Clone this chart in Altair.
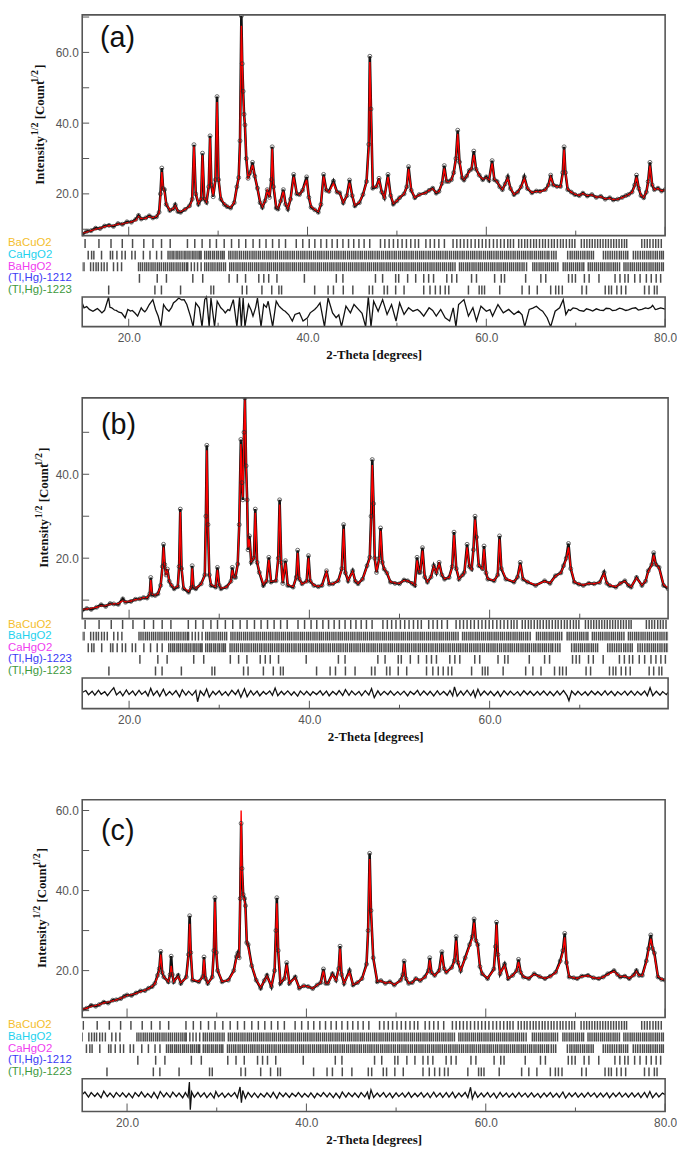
import altair as alt
import pandas as pd

# ------------------------------------------------------------------ data
PANEL_LETTERS = ["(a)", "(b)", "(c)"]
X_TITLE = "2-Theta [degrees]"
ROW_COLORS = ["#F4BE2C", "#1ED2EE", "#F03CF0", "#3C3CF5", "#3E9A3E"]
ROW_LABELS_A = ["BaCuO2", "CaHgO2", "BaHgO2", "(Tl,Hg)-1212", "(Tl,Hg)-1223"]
ROW_LABELS_B = ["BaCuO2", "BaHgO2", "CaHgO2", "(Tl,Hg)-1223", "(Tl,Hg)-1223"]
ROW_LABELS_C = ["BaCuO2", "BaHgO2", "CaHgO2", "(Tl,Hg)-1212", "(Tl,Hg)-1223"]

BRAGG_BACUO2 = [15.12, 16.67, 18.02, 19.28, 20.43, 21.69, 22.71, 23.67, 24.64, 26.57, 27.39, 28.21, 29.08,
                29.81, 30.68, 31.5, 32.32, 33.09, 33.91, 34.64, 35.36, 36.09, 36.81, 37.54, 38.74, 39.47,
                40.19, 40.82, 41.5, 42.13, 42.75, 43.33, 43.96, 44.59, 45.17, 45.75, 46.33, 46.96, 48.16,
                48.65, 49.13, 49.61, 50.1, 50.58, 51.06, 51.55, 52.03, 52.42, 53.24, 53.72, 54.2, 54.69,
                55.31, 56.28, 56.7, 57.1, 57.5, 57.9, 58.3, 58.75, 59.15, 59.55, 59.95, 60.35, 60.8, 61.2,
                61.6, 62.0, 62.4, 62.7, 63.04, 63.62, 63.95, 64.3, 64.6, 64.95, 65.3, 65.6, 65.95, 66.3,
                66.6, 66.95, 67.3, 67.6, 67.95, 68.3, 68.6, 68.95, 69.3, 69.6, 69.9, 70.63, 70.95, 71.25,
                71.55, 71.85, 72.15, 72.45, 72.75, 73.05, 73.35, 73.65, 73.95, 74.25, 74.55, 74.85, 75.15,
                75.45, 75.7, 77.39, 77.7, 78.0, 78.3, 78.65, 78.95, 79.25, 79.57]
BRAGG_CAHGO2 = [15.47, 15.85, 16.1, 16.96, 17.95, 18.2, 18.68, 19.24, 19.61, 20.35, 20.72, 21.64, 22.38,
                23.12, 23.67, 24.4, 24.62, 24.85, 25.05, 25.3, 25.5, 25.72, 25.95, 26.2, 26.4, 26.63,
                26.85, 27.1, 27.3, 27.52, 27.75, 27.95, 28.1, 28.5, 28.72, 28.95, 29.15, 29.4, 29.6, 29.85,
                30.05, 30.3, 30.5, 30.68, 31.2, 31.42, 31.66, 31.9, 32.12, 32.38, 32.6, 32.85, 33.08, 33.3,
                33.55, 33.8, 34.02, 34.25, 34.5, 34.72, 34.98, 35.2, 35.45, 35.68, 35.9, 36.15, 36.4,
                36.62, 36.88, 37.1, 37.35, 37.58, 37.8, 38.05, 38.3, 38.52, 38.78, 39.0, 39.25, 39.48,
                39.7, 39.95, 40.2, 40.42, 40.68, 40.9, 41.15, 41.38, 41.6, 41.85, 42.1, 42.32, 42.58, 42.8,
                43.05, 43.28, 43.5, 43.75, 44.0, 44.22, 44.48, 44.7, 44.95, 45.18, 45.4, 45.65, 45.9,
                46.12, 46.38, 46.6, 46.85, 47.08, 47.3, 47.55, 47.8, 48.02, 48.28, 48.5, 48.75, 48.98,
                49.2, 49.45, 49.7, 49.92, 50.18, 50.4, 50.65, 50.88, 51.1, 51.35, 51.6, 51.82, 52.08, 52.3,
                52.55, 52.78, 53.0, 53.25, 53.5, 53.72, 53.98, 54.2, 54.45, 54.68, 54.9, 55.15, 55.4,
                55.62, 55.88, 56.1, 56.35, 56.58, 56.8, 57.05, 57.3, 57.52, 57.78, 58.0, 58.25, 58.48,
                58.7, 58.95, 59.2, 59.42, 59.68, 59.9, 60.15, 60.38, 60.6, 60.85, 61.1, 61.32, 61.58, 61.8,
                62.05, 62.28, 62.5, 62.75, 63.0, 63.22, 63.48, 63.7, 63.95, 64.18, 64.4, 64.65, 64.9,
                65.12, 65.38, 65.6, 65.85, 66.08, 66.3, 66.55, 66.8, 67.0, 67.3, 67.55, 67.8, 69.1, 69.38,
                69.6, 69.85, 70.08, 70.3, 70.55, 70.8, 71.02, 71.28, 71.5, 71.75, 71.98, 73.1, 73.35,
                73.6, 73.85, 74.1, 74.35, 74.6, 74.88, 75.1, 75.35, 75.6, 75.82, 76.45, 76.7, 76.95, 77.22,
                77.48, 77.7, 77.95, 78.18, 78.4, 78.65, 78.9, 79.12, 79.38, 79.6, 79.8]
BRAGG_BAHGO2 = [14.75, 15.0, 15.74, 16.05, 16.35, 16.6, 16.95, 17.25, 17.58, 18.3, 18.75, 19.2, 21.1,
                21.32, 21.55, 21.8, 22.02, 22.25, 22.5, 22.72, 22.95, 23.2, 23.42, 23.65, 23.9, 24.12,
                24.35, 24.6, 24.82, 25.05, 25.3, 25.52, 25.75, 26.0, 26.22, 26.45, 26.6, 27.0, 27.35, 27.7,
                28.1, 28.5, 28.72, 28.95, 29.2, 29.42, 29.65, 29.9, 30.12, 30.35, 30.6, 30.82, 31.3, 31.52,
                31.75, 32.0, 32.22, 32.45, 32.7, 32.92, 33.15, 33.4, 33.62, 33.85, 34.1, 34.32, 34.55, 34.8,
                35.02, 35.25, 35.5, 35.72, 35.95, 36.2, 36.42, 36.65, 36.9, 37.12, 37.35, 37.6, 37.82,
                38.05, 38.3, 38.52, 38.75, 39.0, 39.22, 39.45, 39.7, 39.92, 40.15, 40.4, 40.62, 40.85,
                41.1, 41.32, 41.55, 41.8, 42.02, 42.25, 42.5, 42.72, 42.95, 43.2, 43.42, 43.65, 43.9,
                44.12, 44.35, 44.6, 44.82, 45.05, 45.3, 45.52, 45.75, 46.0, 46.22, 46.45, 46.7, 46.92,
                47.15, 47.4, 47.62, 47.85, 48.1, 48.32, 48.55, 48.8, 49.02, 49.25, 49.5, 49.72, 49.95,
                50.2, 50.42, 50.65, 50.9, 51.12, 51.35, 51.6, 51.82, 52.05, 52.3, 52.52, 52.75, 53.0,
                53.22, 53.45, 53.7, 53.92, 54.15, 54.4, 54.62, 54.85, 55.1, 55.32, 55.55, 55.8, 56.02,
                56.25, 56.5, 57.0, 57.22, 57.45, 57.7, 57.92, 58.15, 58.4, 58.62, 58.85, 59.1, 59.32,
                59.55, 59.8, 60.02, 60.25, 60.5, 60.72, 60.95, 61.2, 61.42, 61.65, 61.9, 62.12, 62.35,
                62.6, 62.82, 63.05, 63.3, 63.52, 63.75, 64.0, 64.22, 64.5, 65.2, 65.42, 65.65, 65.9, 66.12,
                66.35, 66.6, 66.82, 67.05, 67.3, 67.52, 67.75, 68.0, 68.6, 68.82, 69.05, 69.3, 69.52,
                69.75, 70.0, 70.22, 70.45, 70.7, 70.9, 71.4, 71.62, 71.85, 72.1, 72.32, 72.55, 72.8, 73.02,
                73.25, 73.5, 73.72, 73.95, 74.2, 74.42, 74.65, 74.9, 75.4, 75.62, 75.85, 76.1, 76.32,
                76.55, 76.8, 77.02, 77.25, 77.5, 77.72, 77.95, 78.2, 78.42, 78.65, 78.9, 79.12, 79.35,
                79.6, 79.8]
BRAGG_TL1212 = [21.2, 23.19, 24.22, 27.17, 28.28, 31.23, 32.15, 33.07, 34.55, 35.11, 35.66, 36.58, 39.65,
                43.22, 43.96, 47.6, 48.4, 49.86, 50.2, 51.2, 52.1, 53.0, 53.55, 54.1, 55.58, 56.14, 56.69,
                58.35, 58.9, 60.93, 61.67, 62.04, 64.4, 66.1, 66.65, 69.2, 69.6, 69.97, 70.97, 71.5, 72.6,
                74.4, 74.95, 75.5, 75.87, 76.6, 77.2, 77.9, 78.45, 79.0, 79.5]
BRAGG_TL1223 = [17.76, 22.93, 23.66, 25.8, 29.2, 29.5, 32.7, 33.2, 34.9, 36.0, 36.8, 37.1, 40.8, 42.3,
                42.9, 44.0, 45.07, 46.9, 47.28, 48.57, 48.94, 49.86, 50.8, 53.0, 53.7, 54.3, 54.85, 55.4,
                55.8, 58.0, 59.2, 59.5, 59.8, 61.5, 64.0, 64.8, 65.7, 67.2, 67.76, 68.1, 68.5, 70.7, 71.2,
                73.3, 73.7, 74.0, 74.6, 75.1, 75.6, 77.7, 78.2, 78.8, 79.1]

# (2-theta, observed, calculated)
PROFILE_A = [
    (14.8, 8.6, 8.9), (15.3, 9.4, 9.2), (15.8, 9.6, 9.6), (16.3, 10.3, 10.0), (16.8, 10.2, 10.3),
    (17.3, 10.9, 10.7), (17.8, 11.1, 11.0), (18.3, 10.8, 11.1), (18.8, 11.6, 11.4), (19.3, 11.4, 11.5),
    (19.8, 12.1, 11.8), (20.3, 12.0, 12.1), (20.8, 12.8, 12.5), (21.1, 13.9, 13.6), (21.4, 12.9, 13.0),
    (21.9, 13.2, 13.1), (22.3, 13.8, 13.6), (22.7, 13.2, 13.3), (23.1, 13.5, 13.6), (23.4, 14.8, 14.5),
    (23.55, 20.0, 19.5), (23.7, 27.3, 26.2), (23.85, 21.5, 21.8), (24.0, 21.2, 20.5), (24.2, 17.0, 17.2),
    (24.6, 15.3, 15.4), (25.0, 15.8, 15.9), (25.2, 16.9, 16.6), (25.5, 15.0, 15.2), (25.8, 14.8, 15.0),
    (26.3, 15.6, 15.6), (26.8, 16.6, 16.4), (27.1, 18.5, 18.3), (27.3, 33.9, 33.5), (27.5, 20.0, 20.3),
    (27.8, 17.1, 17.3), (28.1, 18.5, 18.6), (28.25, 31.5, 31.0), (28.45, 18.5, 18.7), (28.7, 17.6, 17.8),
    (28.95, 22.0, 22.0), (29.1, 36.4, 35.8), (29.25, 22.5, 22.8), (29.45, 19.2, 19.5), (29.7, 24.0, 24.0),
    (29.88, 47.5, 46.0), (30.05, 24.0, 24.5), (30.3, 18.5, 18.8), (30.7, 17.0, 17.2), (31.0, 16.4, 16.6),
    (31.4, 16.0, 16.2), (31.8, 17.5, 17.6), (32.1, 22.0, 22.0), (32.3, 24.6, 24.4), (32.45, 35.0, 34.0),
    (32.6, 70.3, 67.5), (32.7, 56.8, 57.5), (32.8, 49.0, 48.5), (32.9, 42.5, 42.0), (33.0, 39.5, 40.0),
    (33.15, 30.0, 30.5), (33.35, 24.4, 24.6), (33.6, 26.0, 26.0), (33.85, 28.9, 28.2), (34.1, 25.0, 25.2),
    (34.4, 21.6, 21.5), (34.7, 17.5, 17.8), (34.95, 16.2, 16.4), (35.25, 18.0, 18.0), (35.5, 21.2, 21.0),
    (35.75, 19.0, 19.2), (35.95, 24.0, 24.0), (36.05, 33.3, 32.8), (36.2, 22.0, 22.5), (36.5, 16.0, 16.3),
    (36.7, 15.7, 15.9), (37.0, 18.0, 18.0), (37.3, 21.2, 20.8), (37.55, 17.0, 17.2), (37.8, 15.7, 15.9),
    (38.1, 18.5, 18.4), (38.45, 25.5, 24.8), (38.8, 20.0, 20.2), (39.1, 19.8, 19.8), (39.45, 21.0, 21.0),
    (39.9, 24.8, 24.0), (40.15, 19.0, 19.2), (40.4, 16.2, 16.5), (40.8, 15.5, 15.6), (41.2, 14.8, 15.0),
    (41.5, 17.0, 17.2), (41.8, 25.5, 25.0), (42.1, 21.0, 21.2), (42.4, 20.7, 20.5), (42.9, 23.6, 23.0),
    (43.3, 20.5, 20.6), (43.6, 20.3, 20.2), (44.0, 17.5, 17.6), (44.4, 19.5, 19.5), (44.7, 23.9, 23.2),
    (45.0, 19.5, 19.6), (45.3, 16.6, 16.8), (45.8, 17.5, 17.6), (46.2, 19.8, 19.8), (46.6, 23.5, 23.2),
    (46.85, 34.0, 33.0), (46.97, 58.9, 57.3), (47.1, 44.0, 44.5), (47.3, 21.6, 22.0), (47.7, 22.0, 22.0),
    (48.0, 24.4, 24.0), (48.3, 20.5, 20.6), (48.6, 18.9, 19.0), (49.0, 25.5, 24.8), (49.3, 19.5, 19.6),
    (49.6, 17.1, 17.3), (50.0, 18.0, 18.0), (50.3, 18.9, 18.9), (50.8, 20.0, 20.0), (51.1, 22.0, 22.0),
    (51.3, 27.7, 27.0), (51.6, 21.0, 21.2), (52.0, 18.9, 19.0), (52.5, 19.8, 19.7), (53.2, 20.3, 20.3),
    (53.6, 21.0, 21.0), (54.0, 21.6, 21.4), (54.4, 20.2, 20.4), (54.7, 20.7, 20.7), (55.05, 23.0, 23.0),
    (55.3, 28.0, 27.2), (55.55, 23.5, 23.6), (55.8, 23.5, 23.4), (56.1, 24.0, 24.0), (56.35, 26.0, 25.8),
    (56.6, 30.0, 30.0), (56.8, 38.0, 37.0), (57.0, 29.0, 29.5), (57.3, 24.5, 24.6), (57.5, 23.9, 24.0),
    (57.8, 25.0, 25.0), (58.1, 26.6, 26.3), (58.35, 27.0, 27.2), (58.6, 32.1, 31.0), (58.85, 27.0, 27.2),
    (59.2, 25.3, 25.2), (59.6, 24.0, 24.2), (60.0, 24.8, 24.5), (60.3, 23.8, 24.0), (60.65, 29.4, 28.6),
    (60.9, 24.0, 24.2), (61.2, 23.5, 23.4), (61.5, 22.0, 22.1), (61.8, 21.2, 21.3), (62.1, 22.8, 22.8),
    (62.4, 24.8, 24.4), (62.7, 21.5, 21.6), (63.1, 19.8, 19.9), (63.5, 20.5, 20.5), (63.9, 22.0, 22.0),
    (64.25, 24.8, 24.3), (64.6, 21.5, 21.6), (65.1, 20.3, 20.4), (65.6, 20.8, 20.7), (66.0, 20.7, 20.6),
    (66.6, 21.2, 21.1), (66.95, 22.5, 22.4), (67.2, 25.3, 24.8), (67.5, 22.5, 22.6), (67.9, 22.1, 22.0),
    (68.3, 22.1, 22.0), (68.55, 26.0, 25.5), (68.7, 33.3, 32.5), (68.85, 26.0, 26.4), (69.1, 21.2, 21.4),
    (69.5, 20.5, 20.5), (69.9, 19.8, 19.9), (70.4, 19.5, 19.6), (70.8, 20.2, 20.1), (71.3, 19.4, 19.5),
    (71.8, 19.8, 19.7), (72.3, 19.0, 19.1), (72.8, 19.3, 19.2), (73.3, 18.5, 18.6), (73.8, 18.9, 18.8),
    (74.2, 18.3, 18.4), (74.7, 18.5, 18.5), (75.2, 19.0, 18.9), (75.6, 19.5, 19.4), (75.9, 19.8, 19.8),
    (76.3, 20.5, 20.4), (76.6, 22.5, 22.3), (76.8, 25.3, 24.8), (77.05, 21.5, 21.7), (77.3, 19.5, 19.6),
    (77.6, 18.9, 19.0), (77.9, 20.5, 20.5), (78.1, 23.5, 23.2), (78.3, 28.9, 28.0), (78.55, 22.5, 22.8),
    (78.8, 21.2, 21.2), (79.2, 21.6, 21.5), (79.6, 20.8, 20.9), (80.0, 21.2, 21.1)]

PROFILE_B = [
    (14.8, 7.6, 7.8), (15.3, 8.0, 7.9), (15.8, 7.8, 8.1), (16.4, 8.3, 8.3), (16.9, 8.9, 8.6),
    (17.4, 8.5, 8.7), (17.9, 9.2, 9.0), (18.3, 9.1, 9.1), (18.8, 9.0, 9.2), (19.3, 10.3, 9.9),
    (19.6, 9.5, 9.6), (20.2, 9.7, 9.8), (20.7, 10.2, 10.1), (21.2, 10.3, 10.3), (21.6, 10.6, 10.6),
    (22.0, 10.5, 10.6), (22.3, 11.5, 11.4), (22.4, 15.4, 14.8), (22.55, 11.2, 11.4), (22.9, 11.1, 11.2),
    (23.2, 11.5, 11.6), (23.5, 13.5, 13.3), (23.7, 18.0, 17.6), (23.82, 23.3, 22.6), (23.95, 18.5, 18.8),
    (24.1, 16.0, 16.2), (24.25, 17.4, 17.0), (24.45, 14.5, 14.6), (24.7, 13.5, 13.6), (25.0, 12.7, 12.9),
    (25.4, 13.2, 13.3), (25.55, 18.0, 17.5), (25.68, 31.7, 31.0), (25.82, 17.5, 18.0), (26.05, 12.7, 13.0),
    (26.6, 11.9, 12.1), (26.9, 13.0, 13.0), (27.0, 18.2, 17.6), (27.15, 13.0, 13.2), (27.4, 12.7, 12.8),
    (28.0, 13.9, 13.8), (28.4, 16.0, 16.0), (28.52, 30.0, 29.0), (28.62, 46.9, 45.7), (28.75, 28.0, 28.5),
    (28.9, 16.0, 16.3), (29.1, 13.5, 13.7), (29.6, 13.1, 13.2), (29.8, 17.8, 17.2), (30.0, 13.5, 13.6),
    (30.2, 12.7, 12.9), (30.8, 13.1, 13.1), (31.3, 14.5, 14.4), (31.45, 17.8, 17.2), (31.6, 15.5, 15.5),
    (31.8, 15.4, 15.5), (32.05, 18.6, 18.6), (32.22, 28.0, 28.0), (32.4, 48.3, 47.2), (32.52, 38.0, 38.5),
    (32.62, 33.9, 34.5), (32.75, 50.0, 50.5), (32.85, 58.2, 57.8), (32.98, 42.0, 43.0), (33.1, 33.9, 33.0),
    (33.2, 22.0, 22.5), (33.35, 25.3, 24.5), (33.55, 19.0, 19.2), (33.85, 20.0, 20.0), (34.0, 31.7, 30.8),
    (34.2, 19.0, 19.3), (34.45, 16.6, 16.7), (34.9, 13.5, 13.8), (35.25, 14.5, 14.6), (35.5, 20.2, 19.6),
    (35.75, 14.3, 14.5), (36.3, 14.6, 14.6), (36.55, 20.0, 20.0), (36.7, 33.9, 32.8), (36.88, 19.0, 19.5),
    (37.05, 14.0, 14.2), (37.35, 19.4, 18.9), (37.6, 13.5, 13.7), (38.2, 13.1, 13.2), (38.55, 15.5, 15.4),
    (38.7, 21.9, 21.3), (38.88, 15.0, 15.2), (39.2, 13.9, 13.9), (39.7, 14.5, 14.4), (39.9, 20.6, 20.0),
    (40.1, 14.5, 14.6), (40.5, 13.5, 13.6), (41.0, 13.2, 13.3), (41.4, 13.5, 13.5), (41.9, 17.0, 16.7),
    (42.2, 13.8, 13.9), (42.6, 13.9, 13.9), (43.2, 14.6, 14.6), (43.6, 17.5, 17.3), (43.8, 28.0, 27.0),
    (44.0, 16.5, 16.8), (44.3, 14.6, 14.7), (44.8, 17.0, 16.8), (45.1, 14.5, 14.6), (45.4, 13.9, 14.0),
    (45.9, 15.0, 15.0), (46.4, 18.2, 18.0), (46.7, 20.2, 20.0), (46.85, 30.0, 29.5), (46.98, 43.5, 42.2),
    (47.12, 33.0, 33.5), (47.25, 20.0, 20.3), (47.45, 16.6, 16.8), (47.75, 20.0, 19.8), (47.9, 27.2, 26.5),
    (48.1, 19.0, 19.2), (48.3, 17.4, 17.5), (48.6, 16.5, 16.6), (49.0, 14.3, 14.4), (49.5, 14.0, 14.1),
    (50.0, 13.9, 14.0), (50.5, 14.8, 14.7), (50.9, 14.6, 14.6), (51.4, 14.0, 14.1), (51.7, 13.5, 13.6),
    (51.95, 20.2, 19.5), (52.15, 16.6, 16.8), (52.3, 16.6, 16.7), (52.55, 22.5, 21.8), (52.8, 15.5, 15.7),
    (53.1, 14.3, 14.4), (53.5, 15.5, 15.5), (53.8, 18.2, 18.0), (54.1, 16.5, 16.6), (54.4, 19.0, 18.7),
    (54.7, 16.0, 16.1), (55.0, 15.0, 15.1), (55.5, 15.4, 15.4), (55.85, 18.0, 17.8), (56.05, 26.2, 25.5),
    (56.3, 17.5, 17.7), (56.6, 15.0, 15.1), (57.0, 16.0, 16.0), (57.2, 16.6, 16.5), (57.5, 23.3, 22.6),
    (57.75, 18.0, 18.2), (58.0, 17.4, 17.4), (58.2, 22.0, 21.8), (58.38, 30.0, 29.2), (58.55, 25.0, 25.2),
    (58.8, 18.2, 18.3), (59.2, 17.5, 17.5), (59.38, 22.9, 22.2), (59.6, 16.5, 16.7), (59.8, 15.0, 15.1),
    (60.5, 14.6, 14.7), (60.9, 16.0, 16.0), (61.1, 25.3, 24.5), (61.3, 17.5, 17.8), (61.8, 15.0, 15.1),
    (62.7, 14.3, 14.4), (63.1, 15.5, 15.5), (63.4, 19.0, 18.6), (63.7, 15.0, 15.2), (64.2, 14.3, 14.4),
    (65.1, 13.5, 13.6), (66.1, 14.6, 14.5), (66.7, 14.0, 14.1), (67.3, 15.8, 15.7), (67.9, 16.5, 16.5),
    (68.2, 18.2, 18.0), (68.5, 20.0, 19.8), (68.75, 23.5, 22.6), (69.0, 17.5, 17.7), (69.4, 14.3, 14.4),
    (69.9, 13.8, 13.9), (70.4, 13.5, 13.6), (71.0, 14.0, 14.0), (71.6, 13.9, 13.9), (72.2, 14.2, 14.2),
    (72.7, 16.6, 16.3), (73.0, 14.0, 14.1), (73.3, 13.5, 13.6), (74.0, 13.1, 13.2), (74.5, 14.0, 14.0),
    (75.0, 14.6, 14.5), (75.4, 13.5, 13.6), (75.7, 13.1, 13.2), (76.3, 15.4, 15.3), (76.9, 13.5, 13.6),
    (77.3, 14.5, 14.5), (77.6, 17.0, 16.8), (78.0, 18.5, 18.4), (78.2, 21.3, 20.8), (78.45, 18.5, 18.6),
    (78.8, 17.8, 17.6), (79.3, 13.5, 13.7), (79.8, 12.7, 12.9)]

PROFILE_C = [
    (15.0, 10.3, 10.4), (15.5, 10.6, 10.6), (16.0, 11.3, 11.0), (16.5, 11.1, 11.3), (16.9, 11.5, 11.5),
    (17.4, 12.1, 11.9), (17.9, 11.9, 12.2), (18.4, 12.6, 12.4), (18.8, 12.7, 12.7), (19.3, 13.0, 13.1),
    (19.7, 13.6, 13.4), (20.0, 13.9, 13.8), (20.5, 13.8, 14.0), (21.0, 14.4, 14.3), (21.5, 14.9, 14.7),
    (22.0, 15.0, 15.1), (22.4, 15.6, 15.5), (22.8, 16.0, 16.1), (23.1, 16.8, 16.7), (23.4, 18.8, 18.5),
    (23.6, 20.5, 20.3), (23.75, 24.8, 24.0), (23.92, 19.5, 19.8), (24.1, 18.4, 18.4), (24.6, 17.2, 17.3),
    (24.8, 19.0, 18.8), (24.92, 23.6, 21.2), (25.05, 19.0, 19.2), (25.2, 17.2, 17.3), (25.7, 18.8, 18.5),
    (26.0, 16.8, 17.0), (26.6, 18.4, 18.2), (26.85, 24.0, 23.5), (26.98, 33.7, 31.7), (27.1, 24.5, 25.0),
    (27.3, 17.6, 17.8), (28.0, 17.2, 17.3), (28.45, 18.5, 18.4), (28.58, 23.4, 22.8), (28.75, 18.0, 18.2),
    (29.0, 16.8, 16.9), (29.5, 18.4, 18.3), (29.68, 25.0, 25.0), (29.8, 38.2, 37.2), (29.95, 24.5, 25.0),
    (30.1, 20.0, 20.2), (30.6, 17.2, 17.3), (31.3, 17.6, 17.6), (31.9, 20.0, 19.8), (32.2, 23.5, 23.2),
    (32.35, 24.4, 24.0), (32.5, 23.2, 23.4), (32.62, 38.0, 38.5), (32.72, 56.8, 60.0), (32.82, 45.5, 46.0),
    (32.95, 39.0, 38.5), (33.1, 38.0, 37.5), (33.2, 36.2, 35.5), (33.35, 27.0, 27.5), (33.5, 26.5, 26.0),
    (33.9, 21.2, 21.3), (34.4, 17.6, 17.7), (34.9, 15.6, 15.8), (35.3, 17.5, 17.4), (35.6, 18.8, 18.6),
    (36.1, 16.0, 16.2), (36.45, 20.0, 19.8), (36.6, 30.0, 29.5), (36.7, 38.2, 36.8), (36.85, 25.0, 25.6),
    (37.1, 16.8, 17.0), (37.55, 18.0, 17.9), (37.8, 22.0, 21.5), (38.1, 16.8, 16.9), (38.75, 18.4, 18.2),
    (39.2, 15.6, 15.7), (39.7, 16.2, 16.2), (40.2, 16.0, 16.0), (40.7, 15.5, 15.6), (41.2, 16.4, 16.4),
    (41.6, 17.0, 17.0), (41.9, 20.4, 20.0), (42.15, 16.8, 16.9), (42.4, 16.8, 16.8), (42.9, 19.2, 19.0),
    (43.3, 17.6, 17.6), (43.6, 20.5, 20.3), (43.75, 26.1, 25.5), (43.92, 19.0, 19.3), (44.2, 16.8, 16.9),
    (44.8, 20.0, 19.6), (45.2, 16.4, 16.5), (45.7, 17.0, 17.0), (46.2, 18.0, 18.0), (46.7, 21.6, 21.3),
    (46.88, 30.0, 30.0), (47.05, 49.3, 47.9), (47.2, 35.0, 35.5), (47.45, 23.2, 23.2), (47.9, 17.2, 17.4),
    (48.3, 17.5, 17.4), (48.8, 16.8, 16.9), (49.3, 17.2, 17.1), (49.8, 16.4, 16.5), (50.5, 17.6, 17.5),
    (50.75, 19.0, 18.8), (50.9, 22.4, 21.8), (51.1, 18.0, 18.2), (51.4, 16.8, 16.9), (51.8, 17.0, 17.0),
    (52.2, 18.0, 18.0), (52.7, 17.5, 17.6), (53.2, 18.4, 18.3), (53.6, 20.0, 19.8), (53.75, 23.2, 22.6),
    (53.95, 19.5, 19.6), (54.3, 18.8, 18.8), (54.8, 20.0, 19.9), (55.1, 24.7, 24.0), (55.35, 20.5, 20.6),
    (55.6, 19.6, 19.6), (56.2, 20.8, 20.7), (56.5, 22.5, 22.3), (56.7, 28.5, 27.5), (56.9, 22.0, 22.3),
    (57.2, 20.0, 20.1), (57.7, 23.2, 23.0), (58.2, 26.5, 26.2), (58.5, 28.5, 28.0), (58.7, 32.9, 32.0),
    (58.9, 27.5, 27.6), (59.1, 26.5, 26.0), (59.35, 21.0, 21.2), (59.6, 19.2, 19.3), (60.2, 18.0, 18.1),
    (60.9, 20.4, 20.2), (61.08, 26.0, 26.0), (61.2, 32.1, 31.5), (61.35, 24.0, 24.5), (61.6, 19.2, 19.3),
    (62.1, 21.6, 21.3), (62.5, 18.0, 18.1), (63.0, 18.8, 18.8), (63.45, 20.0, 20.0), (63.65, 22.8, 22.2),
    (63.9, 19.5, 19.6), (64.2, 18.4, 18.5), (64.8, 18.0, 18.1), (65.4, 19.2, 19.1), (66.0, 18.5, 18.5),
    (66.6, 18.0, 18.1), (67.2, 18.6, 18.5), (67.8, 19.6, 19.5), (68.3, 22.4, 22.0), (68.6, 25.0, 24.6),
    (68.8, 29.3, 28.3), (69.0, 22.0, 22.4), (69.3, 18.4, 18.5), (69.8, 18.2, 18.2), (70.2, 18.0, 18.1),
    (70.7, 18.6, 18.5), (71.4, 18.8, 18.7), (72.0, 18.2, 18.2), (72.6, 18.0, 18.1), (73.1, 18.4, 18.4),
    (73.6, 19.2, 19.0), (74.3, 20.0, 19.8), (74.7, 19.0, 19.0), (75.0, 18.4, 18.5), (75.5, 18.6, 18.6),
    (76.0, 18.0, 18.1), (76.5, 18.9, 18.8), (76.8, 20.0, 19.8), (77.1, 18.8, 18.8), (77.45, 18.8, 18.8),
    (77.9, 22.4, 22.0), (78.15, 25.5, 25.0), (78.4, 28.9, 28.0), (78.6, 25.5, 25.8), (78.8, 24.4, 24.0),
    (79.2, 18.4, 18.6), (79.6, 17.8, 17.9), (80.0, 17.6, 17.7)]

# (2-theta, observed - calculated), box spans -10 .. 10
DIFF_A = [
    (14.8, 6.0), (15.0, 2.7), (15.3, 3.5), (15.6, 1.6), (16.0, 0.4), (16.3, 1.5), (16.5, 2.2), (16.8, 0.5),
    (17.0, -0.7), (17.3, 1.0), (17.5, 4.9), (17.75, 9.8), (17.9, 3.0), (18.1, 2.7), (18.4, 1.2), (18.6, 0.9),
    (18.9, -0.3), (19.2, -0.7), (19.6, -4.0), (19.9, 1.6), (20.2, 0.5), (20.4, 0.9), (20.7, -0.8), (21.0, -2.9),
    (21.4, 2.7), (21.6, 1.0), (21.8, 0.0), (22.0, 1.5), (22.3, 4.9), (22.7, 8.2), (23.0, 1.6), (23.3, -3.0),
    (23.6, -10.0), (23.9, 4.9), (24.2, 2.0), (24.5, 0.4), (24.8, 3.0), (25.0, 6.0), (25.3, 7.5), (25.6, 9.3),
    (25.9, 8.0), (26.2, 8.2), (26.5, 4.9), (26.9, -2.9), (27.2, -10.0), (27.5, 6.0), (27.9, 2.7), (28.2, -10.0),
    (28.5, 8.2), (28.7, 10.0), (29.0, -10.0), (29.2, 9.3), (29.6, -10.0), (29.9, 7.1), (30.3, 2.7), (30.6, 1.0),
    (30.8, -0.7), (31.1, 1.5), (31.3, 0.9), (31.7, 8.2), (32.1, -10.0), (32.4, 10.0), (32.6, -10.0), (32.8, 9.3),
    (33.0, -10.0), (33.4, 4.9), (33.7, 1.0), (33.9, -2.9), (34.2, 3.0), (34.4, 9.3), (34.8, -10.0), (35.1, 4.9),
    (35.4, 3.0), (35.6, 7.1), (36.1, -10.0), (36.5, 7.1), (36.8, 4.0), (37.0, 2.7), (37.3, 1.0), (37.5, 0.4),
    (37.9, -2.0), (38.3, -6.2), (38.6, -1.8), (39.1, -0.7), (39.5, -6.2), (40.0, -4.0), (40.3, -0.7), (40.8, 1.6),
    (41.1, 3.5), (41.4, 6.0), (41.9, -10.0), (42.3, 9.3), (42.8, -0.7), (43.2, -4.0), (43.5, -2.0), (43.8, -10.0),
    (44.3, 3.8), (44.8, -0.7), (45.2, 4.9), (45.7, 1.6), (46.1, -1.0), (46.5, -10.0), (46.8, 10.0), (47.1, -10.0),
    (47.4, 7.1), (47.9, 0.4), (48.4, 8.2), (48.9, -1.8), (49.4, 4.9), (49.9, -6.2), (50.3, 6.0), (50.8, -1.8),
    (51.3, 2.7), (51.8, 0.4), (52.3, 1.6), (52.6, 0.0), (53.0, -2.9), (53.6, 2.7), (54.0, 0.9), (54.4, -2.9),
    (54.9, 1.6), (55.4, -4.0), (55.9, -6.2), (56.3, 2.7), (56.6, -10.0), (56.9, 4.9), (57.5, 8.2), (58.0, -2.9),
    (58.5, 2.7), (58.9, -6.2), (59.4, 3.8), (60.0, 0.4), (60.4, 1.5), (60.7, -2.9), (61.3, 4.9), (61.9, -0.7),
    (62.5, 1.6), (63.1, -1.8), (63.6, 0.4), (64.0, -2.0), (64.3, -10.0), (64.8, 1.6), (65.2, 2.5), (65.6, 3.8),
    (66.0, 1.5), (66.3, 0.4), (66.8, -4.0), (67.2, -10.0), (67.7, 0.4), (68.2, 2.7), (68.6, 8.2), (68.9, -1.8),
    (69.2, 1.5), (69.4, 0.9), (69.7, 2.6), (70.1, 2.2), (70.4, 1.0), (70.9, 0.4), (71.2, 2.0), (71.6, 1.3),
    (71.9, 0.5), (72.3, 2.0), (72.7, 1.1), (73.1, 0.9), (73.4, 2.4), (73.8, 2.2), (74.1, 0.8), (74.5, 1.1),
    (74.9, 2.5), (75.2, 2.0), (75.6, 0.9), (75.9, 1.3), (76.3, 2.3), (76.7, 2.7), (77.0, 1.2), (77.4, 1.6),
    (77.8, 2.6), (78.1, 2.2), (78.4, 3.0), (78.6, 4.4), (78.9, 1.5), (79.1, 1.8), (79.5, 2.6), (79.8, 2.2),
    (80.0, 1.8)]

DIFF_B = [
    (14.8, 0.5), (15.2, 1.8), (15.5, -0.9), (15.9, 1.4), (16.2, -1.2), (16.6, 2.0), (16.9, -0.6), (17.3, 1.1),
    (17.6, -1.5), (18.0, 1.6), (18.3, 3.6), (18.6, -1.0), (19.0, 1.2), (19.3, -1.6), (19.7, 2.2), (20.0, -0.8),
    (20.4, 1.5), (20.7, -1.3), (21.1, 1.9), (21.4, -0.7), (21.8, 1.3), (22.1, -1.8), (22.4, 3.2), (22.7, -1.2),
    (23.1, 1.6), (23.4, -2.0), (23.8, 2.6), (24.1, -1.5), (24.5, 1.2), (24.8, -1.0), (25.2, 1.7), (25.6, -2.2),
    (25.9, 2.3), (26.3, -1.1), (26.6, 1.4), (27.0, -1.3), (27.4, 1.8), (27.6, -5.5), (27.9, 1.5), (28.3, -1.4),
    (28.6, 2.8), (28.9, -2.4), (29.3, 1.3), (29.6, -0.9), (30.0, 1.6), (30.3, -1.2), (30.7, 1.1), (31.0, -1.5),
    (31.4, 1.9), (31.8, -0.8), (32.1, 2.2), (32.4, -2.6), (32.8, 3.0), (33.1, -2.2), (33.5, 1.7), (33.8, -1.1),
    (34.2, 1.4), (34.5, -1.6), (34.9, 1.2), (35.2, -0.7), (35.6, 1.5), (35.9, -1.3), (36.2, 3.4), (36.5, -1.5),
    (36.9, 1.3), (37.2, -0.9), (37.6, 1.6), (38.0, -1.2), (38.3, 1.0), (38.7, -1.8), (39.0, 1.5), (39.4, -1.0),
    (39.7, 1.3), (40.1, -1.4), (40.4, 1.1), (40.8, -0.8), (41.2, 1.6), (41.5, -1.2), (41.9, 1.4), (42.2, -1.6),
    (42.6, 1.2), (43.0, -0.9), (43.3, 1.8), (43.7, -1.4), (44.0, 2.4), (44.4, -1.3), (44.7, 1.5), (45.1, -1.0),
    (45.5, 1.2), (45.8, -1.5), (46.2, 1.7), (46.6, -1.1), (46.9, 3.0), (47.2, -2.8), (47.6, 1.6), (47.9, -1.2),
    (48.3, 1.3), (48.7, -0.9), (49.0, 1.5), (49.4, -1.3), (49.8, 1.1), (50.1, -1.0), (50.5, 1.4), (50.9, -1.6),
    (51.2, 1.2), (51.6, -0.8), (52.0, 1.9), (52.3, -1.4), (52.7, 1.5), (53.1, -1.1), (53.4, 1.3), (53.8, -1.7),
    (54.2, 1.6), (54.5, -1.0), (54.9, 1.2), (55.3, -1.3), (55.6, 1.8), (55.9, -1.6), (56.1, 4.2), (56.4, -1.8),
    (56.8, 1.4), (57.1, -1.2), (57.5, 2.0), (57.9, -1.5), (58.2, 1.7), (58.4, -2.5), (58.7, 2.6), (59.0, -1.4),
    (59.4, 1.5), (59.8, -1.1), (60.1, 1.3), (60.5, -1.6), (60.9, 1.2), (61.2, -2.0), (61.6, 1.7), (62.0, -1.0),
    (62.3, 1.4), (62.7, -1.2), (63.1, 1.1), (63.4, -1.5), (63.8, 1.6), (64.2, -0.9), (64.5, 1.3), (64.9, -1.4),
    (65.3, 1.2), (65.6, -1.1), (66.0, 1.5), (66.4, -1.3), (66.7, 1.1), (67.1, -1.6), (67.5, 1.4), (67.8, -1.0),
    (68.2, 1.8), (68.6, -1.7), (68.8, -4.8), (69.1, 1.5), (69.5, -1.1), (69.8, 1.3), (70.2, -1.2), (70.6, 1.0),
    (70.9, -1.4), (71.3, 1.5), (71.7, -0.9), (72.0, 1.2), (72.4, -1.3), (72.8, 1.6), (73.1, -1.1), (73.5, 1.3),
    (73.9, -1.5), (74.2, 1.1), (74.6, -1.0), (75.0, 1.4), (75.3, -1.2), (75.7, 1.5), (76.1, -1.3), (76.4, 1.2),
    (76.8, -1.1), (77.2, 1.4), (77.5, -1.6), (77.8, 3.6), (78.1, -1.5), (78.5, 1.3), (78.9, -1.2), (79.2, 1.1),
    (79.6, -0.9), (79.8, 0.6)]

DIFF_C = [
    (15.0, 0.4), (15.3, 1.9), (15.7, -1.2), (16.0, 1.5), (16.4, -0.8), (16.7, 1.3), (17.1, -1.6), (17.4, 2.4),
    (17.8, -1.0), (18.1, 1.2), (18.5, -1.4), (18.8, 1.6), (19.2, -0.9), (19.5, 1.4), (19.9, -1.3), (20.2, 1.1),
    (20.6, -1.7), (20.9, 1.5), (21.3, -0.8), (21.6, 1.9), (22.0, -1.2), (22.3, 1.0), (22.7, -1.5), (23.0, 1.7),
    (23.4, -1.9), (23.7, 2.2), (24.1, -1.1), (24.4, 1.4), (24.8, -1.4), (25.1, 1.8), (25.5, -1.0), (25.8, 1.3),
    (26.2, -1.6), (26.5, 1.5), (26.8, -1.2), (26.95, 8.0), (27.05, -9.0), (27.2, 2.0), (27.5, -1.3), (27.9, 1.6),
    (28.2, -1.1), (28.6, 1.4), (28.9, -1.5), (29.3, 1.2), (29.7, -1.8), (29.9, 2.2), (30.2, -1.0), (30.6, 1.3),
    (30.9, -1.4), (31.3, 1.1), (31.6, -0.9), (32.0, 1.5), (32.3, -1.6), (32.6, 5.0), (32.75, -4.6), (32.9, 2.8),
    (33.2, -2.0), (33.5, 1.6), (33.9, -1.2), (34.2, 1.3), (34.6, -1.5), (34.9, 1.0), (35.3, -1.1), (35.6, 1.4),
    (36.0, -1.3), (36.3, 1.7), (36.7, -2.0), (37.0, 1.5), (37.4, -1.0), (37.7, 1.2), (38.1, -1.4), (38.4, 1.1),
    (38.8, -0.9), (39.1, 1.5), (39.5, -1.3), (39.8, 1.0), (40.2, -1.2), (40.5, 1.4), (40.9, -1.6), (41.2, 1.2),
    (41.6, -0.8), (41.9, 1.6), (42.3, -1.1), (42.6, 1.3), (43.0, -1.5), (43.3, 1.2), (43.7, -1.7), (44.0, 1.9),
    (44.4, -1.2), (44.7, 1.4), (45.1, -1.0), (45.4, 1.2), (45.8, -1.4), (46.1, 1.5), (46.5, -1.1), (46.8, 1.8),
    (47.0, -2.6), (47.2, 3.2), (47.5, -1.4), (47.9, 1.3), (48.2, -1.0), (48.6, 1.5), (48.9, -1.3), (49.3, 1.2),
    (49.6, -1.6), (50.0, 1.4), (50.3, -0.9), (50.7, 1.3), (51.0, -1.2), (51.4, 1.6), (51.7, -1.4), (52.1, 1.1),
    (52.4, -1.0), (52.8, 1.5), (53.1, -1.3), (53.5, 1.3), (53.8, -1.5), (54.2, 1.8), (54.5, -1.1), (54.9, 1.2),
    (55.2, -1.4), (55.6, 1.5), (55.9, -1.2), (56.3, 1.7), (56.6, -1.6), (57.0, 1.3), (57.3, -1.0), (57.7, 1.6),
    (58.0, -1.5), (58.3, 4.8), (58.5, -2.2), (58.8, 2.0), (59.1, -1.4), (59.5, 1.2), (59.8, -1.1), (60.2, 1.5),
    (60.5, -1.3), (60.9, 1.2), (61.2, -1.8), (61.6, 1.6), (61.9, -1.0), (62.3, 1.3), (62.6, -1.3), (63.0, 1.1),
    (63.3, -1.4), (63.7, 1.5), (64.0, -1.0), (64.4, 1.2), (64.7, -1.3), (65.1, 1.4), (65.4, -1.1), (65.8, 1.0),
    (66.1, -1.5), (66.5, 1.3), (66.8, -1.0), (67.2, 1.6), (67.5, -1.2), (67.9, 1.1), (68.2, -1.4), (68.6, 1.9),
    (68.9, -1.8), (69.3, 1.2), (69.6, -1.0), (70.0, 1.4), (70.3, -1.3), (70.7, 1.1), (71.0, -1.2), (71.4, 1.5),
    (71.7, -0.9), (72.1, 1.3), (72.4, -1.4), (72.8, 1.2), (73.1, -1.1), (73.5, 1.4), (73.8, -1.6), (74.2, 1.3),
    (74.5, -1.0), (74.9, 1.5), (75.2, -1.2), (75.6, 1.1), (75.9, -1.3), (76.3, 1.4), (76.6, -1.1), (77.0, 1.2),
    (77.3, -1.5), (77.7, 1.6), (78.0, -1.4), (78.3, 2.2), (78.6, -1.6), (79.0, 1.3), (79.3, -1.1), (79.7, 1.2),
    (80.0, 0.3)]

X_LABELS_A = [20, 40, 60, 80]
X_LABELS_B = [20, 40, 60]
X_LABELS_C = [20, 40, 60, 80]
X_MINOR = [30, 50, 70]
Y_LABELS_A = [20, 40, 60]
Y_MINOR_A = [10, 30, 50, 70]
Y_LABELS_B = [20, 40]
Y_MINOR_B = [10, 30, 50]
Y_LABELS_C = [20, 40, 60]
Y_MINOR_C = [10, 30, 50]

# ------------------------------------------------------------------ style
FRAME = "#555555"
LABEL_GREY = "#555555"
ONE = pd.DataFrame({"k": [0]})


def ytitle_layers(cx, cy):
    start = cy + 60
    parts = [("Intensity", 13, 0, 0), ("1/2", 10, 50, -6), ("[Count", 13, 66, 0),
             ("1/2", 10, 103, -6), ("]", 13, 117, 0)]
    out = []
    for txt, fs, off, dx in parts:
        out.append(alt.Chart(ONE).mark_text(
            text=txt, angle=270, align="left", baseline="alphabetic",
            font="Liberation Serif", fontWeight="bold", fontSize=fs, color="#111111"
        ).encode(x=alt.value(cx + dx), y=alt.value(start - off)))
    return out


def panel(p):
    W, Hm, T, D = p["W"], p["Hm"], p["T"], p["D"]
    H = Hm + T + D
    xs = alt.Scale(domain=p["xdom"], nice=False, zero=False)
    xaxis = alt.Axis(values=p["xlab"], format=".1f", title=X_TITLE,
                     titleFont="Liberation Serif", titleFontWeight="bold", titleFontSize=13,
                     titleColor="#111111", titlePadding=5,
                     labelFont="Liberation Sans", labelFontSize=12, labelColor=LABEL_GREY,
                     labelPadding=6, ticks=False, tickSize=0, domain=False, grid=False,
                     labelFlush=False, labelOverlap=False)

    def X(f):
        return alt.X(f, type="quantitative", scale=xs, axis=xaxis)

    ysm = alt.Scale(domain=p["ydom"], range=[Hm, 0], nice=False, zero=False)
    yaxis = alt.Axis(values=p["ylab"], format=".1f", title=None,
                     labelFont="Liberation Sans", labelFontSize=12, labelColor=LABEL_GREY,
                     labelPadding=4, ticks=False, tickSize=0, domain=False, grid=False,
                     labelFlush=False)
    rs = alt.Scale(domain=[0, 4], range=[Hm + p["r0"], Hm + p["r1"]], nice=False, zero=False)
    ds = alt.Scale(domain=[-10, 10], range=[H, Hm + T], nice=False, zero=False)

    prof = pd.DataFrame(p["profile"], columns=["tt", "obs", "calc"])
    diff = pd.DataFrame(p["diff"], columns=["tt", "d"])
    bragg = pd.DataFrame([{"tt": v, "row": i} for i, lst in enumerate(p["rows"]) for v in lst])
    labs = pd.DataFrame({"row": list(range(5)), "label": p["labels"]})
    ymaj = pd.DataFrame({"v": p["ylab"] + p["yminor"]})
    xmaj = pd.DataFrame({"v": p["xlab"]})
    xmin = pd.DataFrame({"v": X_MINOR})

    layers = [
        alt.Chart(prof).mark_line(color="#111111", strokeWidth=2.6, clip=True).encode(
            x=X("tt"), y=alt.Y("obs:Q", scale=ysm, axis=yaxis)),
        alt.Chart(prof).mark_line(color="#ff0000", strokeWidth=1.4, clip=True).encode(
            x=X("tt"), y=alt.Y("calc:Q", scale=ysm, axis=None)),
        alt.Chart(prof).mark_point(shape="circle", size=16, filled=False, color="#2a2a2a",
                                   strokeWidth=1.0, clip=True).encode(
            x=X("tt"), y=alt.Y("obs:Q", scale=ysm, axis=None)),
        alt.Chart(ymaj).mark_rule(color=FRAME, strokeWidth=1).encode(
            x=alt.value(0), x2=alt.value(7), y=alt.Y("v:Q", scale=ysm, axis=None)),
        alt.Chart(xmaj).mark_rule(color=FRAME, strokeWidth=1).encode(
            x=X("v"), y=alt.value(Hm), y2=alt.value(Hm - 9)),
        alt.Chart(xmin).mark_rule(color=FRAME, strokeWidth=1).encode(
            x=X("v"), y=alt.value(Hm), y2=alt.value(Hm - 5)),
        alt.Chart(bragg).mark_tick(orient="vertical", size=9, thickness=1.5, color="#000000",
                                   clip=True).encode(
            x=X("tt"), y=alt.Y("row:Q", scale=rs, axis=None)),
        alt.Chart(labs).mark_text(align="left", baseline="middle", font="Liberation Sans",
                                  fontSize=11.5).encode(
            x=alt.value(-75), y=alt.Y("row:Q", scale=rs, axis=None), text="label:N",
            color=alt.Color("row:N", scale=alt.Scale(domain=[0, 1, 2, 3, 4], range=ROW_COLORS),
                            legend=None)),
        alt.Chart(diff).mark_line(color="#111111", strokeWidth=1.3, clip=True).encode(
            x=X("tt"), y=alt.Y("d:Q", scale=ds, axis=None)),
        alt.Chart(xmaj).mark_rule(color=FRAME, strokeWidth=1).encode(
            x=X("v"), y=alt.value(H), y2=alt.value(H - 8)),
        alt.Chart(xmin).mark_rule(color=FRAME, strokeWidth=1).encode(
            x=X("v"), y=alt.value(H), y2=alt.value(H - 4)),
        alt.Chart(ONE).mark_rect(fillOpacity=0, stroke=FRAME, strokeWidth=1.6).encode(
            x=alt.value(0), x2=alt.value(W), y=alt.value(0), y2=alt.value(Hm)),
        alt.Chart(ONE).mark_rect(fillOpacity=0, stroke=FRAME, strokeWidth=1.6).encode(
            x=alt.value(0), x2=alt.value(W), y=alt.value(Hm + T), y2=alt.value(H)),
        alt.Chart(ONE).mark_text(text=p["letter"], align="left", baseline="alphabetic",
                                 font="Liberation Sans", fontSize=29, color="#111111").encode(
            x=alt.value(p["lx"]), y=alt.value(p["ly"])),
    ] + ytitle_layers(p["tx"], Hm / 2)

    return alt.layer(*layers).resolve_scale(y="independent").properties(width=W, height=H)


PA = dict(W=589, Hm=223, T=62, D=30, r0=8, r1=55, xdom=[14.8, 80.0], ydom=[8.2, 70.6],
          xlab=X_LABELS_A, ylab=Y_LABELS_A, yminor=Y_MINOR_A, profile=PROFILE_A, diff=DIFF_A,
          rows=[BRAGG_BACUO2, BRAGG_CAHGO2, BRAGG_BAHGO2, BRAGG_TL1212, BRAGG_TL1223],
          labels=ROW_LABELS_A, letter=PANEL_LETTERS[0], lx=18, ly=32, tx=-39)
PB = dict(W=592, Hm=223, T=60, D=31, r0=6, r1=53, xdom=[14.8, 79.8], ydom=[5.6, 58.2],
          xlab=X_LABELS_B, ylab=Y_LABELS_B, yminor=Y_MINOR_B, profile=PROFILE_B, diff=DIFF_B,
          rows=[BRAGG_BACUO2, BRAGG_BAHGO2, BRAGG_CAHGO2, BRAGG_TL1212, BRAGG_TL1223],
          labels=ROW_LABELS_B, letter=PANEL_LETTERS[1], lx=19, ly=36, tx=-35)
PC = dict(W=589, Hm=220, T=62, D=33, r0=8, r1=55, xdom=[15.0, 80.0], ydom=[8.3, 62.7],
          xlab=X_LABELS_C, ylab=Y_LABELS_C, yminor=Y_MINOR_C, profile=PROFILE_C, diff=DIFF_C,
          rows=[BRAGG_BACUO2, BRAGG_BAHGO2, BRAGG_CAHGO2, BRAGG_TL1212, BRAGG_TL1223],
          labels=ROW_LABELS_C, letter=PANEL_LETTERS[2], lx=19, ly=41, tx=-37)

chart = alt.vconcat(
    alt.vconcat(panel(PA), panel(PB), spacing=36),
    panel(PC),
    spacing=56,
).properties(padding=0, background="white").configure_view(stroke=None)

chart.save("out.html", embed_options={"renderer": "svg", "actions": False})
